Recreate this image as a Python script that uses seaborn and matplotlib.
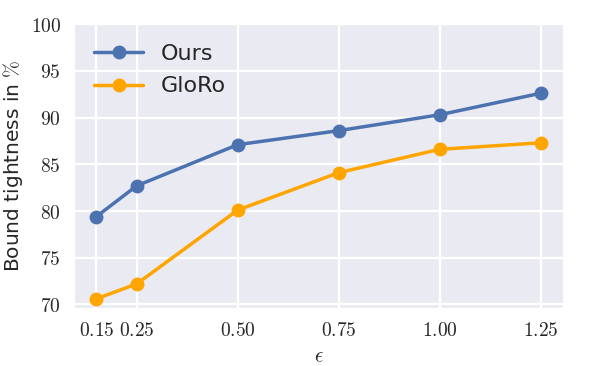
import pandas as pd
import matplotlib
matplotlib.use("Agg")
import matplotlib.pyplot as plt
import seaborn as sns

# values
eps = [0.15, 0.25, 0.50, 0.75, 1.00, 1.25]
ours = [79.4, 82.7, 87.1, 88.6, 90.3, 92.6]
gloro = [70.6, 72.2, 80.1, 84.1, 86.6, 87.3]
eps_labels = ["0.15", "0.25", "0.50", "0.75", "1.00", "1.25"]
y_ticks = [70, 75, 80, 85, 90, 95, 100]

sns.set_style("darkgrid", {'grid.linewidth': 1.6})
plt.rcParams['font.family'] = ['DejaVu Sans']
plt.rcParams['mathtext.fontset'] = 'cm'
plt.rcParams['grid.linewidth'] = 1.6

df = pd.DataFrame({
    'eps': eps * 2,
    'tight': ours + gloro,
    'method': ['Ours'] * len(eps) + ['GloRo'] * len(eps),
})

fig = plt.figure(figsize=(5.98, 3.66), dpi=100)
ax = fig.add_axes([0.124, 0.158, 0.817, 0.776])
sns.lineplot(data=df, x='eps', y='tight', hue='method',
             palette={'Ours': '#4C72B0', 'GloRo': 'orange'},
             marker='o', markersize=10, markeredgewidth=0, linewidth=2.5, ax=ax)

ax.set_xticks(eps)
ax.set_xticklabels([f"${s}$" for s in eps_labels], fontsize=14)
ax.set_yticks(y_ticks)
ax.set_yticklabels([f"${v}$" for v in y_ticks], fontsize=14)
ax.set_ylim(69.6, 100)
ax.set_xlabel(r'$\epsilon$', fontsize=15)
ax.set_ylabel(r'Bound tightness in $\%$', fontsize=14.5)
ax.tick_params(axis='both', pad=6)

leg = ax.legend(loc='upper left', frameon=False, fontsize=16,
                handlelength=2.2, handletextpad=0.8, labelspacing=0.55)
for line in leg.get_lines():
    line.set_linewidth(2.5)
    line.set_markersize(10)

fig.savefig('out.png', dpi=100)
